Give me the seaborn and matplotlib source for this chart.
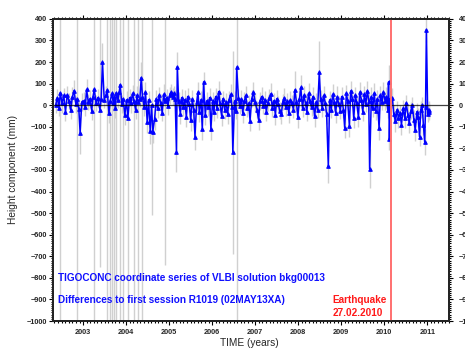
import pandas as pd
import seaborn as sns
import matplotlib.pyplot as plt
from matplotlib.ticker import MultipleLocator

# epochs of the VLBI sessions (decimal years)
epoch = [
    2002.36, 2002.40, 2002.44, 2002.47, 2002.51, 2002.55, 2002.59, 2002.63, 2002.67, 2002.71, 2002.75, 2002.79, 2002.83, 2002.86, 2002.90, 2002.93, 2002.97,
    2003.01, 2003.05, 2003.08, 2003.12, 2003.16, 2003.20, 2003.23, 2003.26, 2003.30, 2003.34, 2003.39, 2003.42, 2003.45, 2003.49, 2003.53, 2003.56, 2003.60, 2003.63, 2003.67, 2003.70, 2003.72, 2003.75, 2003.77, 2003.81, 2003.84, 2003.86, 2003.90, 2003.93, 2003.97,
    2004.01, 2004.04, 2004.08, 2004.11, 2004.15, 2004.18, 2004.22, 2004.25, 2004.28, 2004.32, 2004.35, 2004.38, 2004.42, 2004.45, 2004.49, 2004.52, 2004.56, 2004.59, 2004.62, 2004.66, 2004.70, 2004.73, 2004.77, 2004.80, 2004.84, 2004.87, 2004.90, 2004.94, 2004.97,
    2005.01, 2005.04, 2005.08, 2005.11, 2005.14, 2005.17, 2005.19, 2005.22, 2005.26, 2005.29, 2005.33, 2005.36, 2005.40, 2005.43, 2005.47, 2005.50, 2005.54, 2005.57, 2005.60, 2005.64, 2005.67, 2005.70, 2005.74, 2005.77, 2005.80, 2005.84, 2005.87, 2005.91, 2005.94, 2005.97,
    2006.01, 2006.04, 2006.08, 2006.11, 2006.15, 2006.18, 2006.22, 2006.25, 2006.29, 2006.32, 2006.36, 2006.39, 2006.43, 2006.46, 2006.48, 2006.52, 2006.55, 2006.57, 2006.61, 2006.64, 2006.68, 2006.71, 2006.75, 2006.78, 2006.82, 2006.85, 2006.88, 2006.92, 2006.96,
    2007.00, 2007.04, 2007.08, 2007.11, 2007.15, 2007.19, 2007.22, 2007.26, 2007.29, 2007.33, 2007.36, 2007.40, 2007.43, 2007.47, 2007.50, 2007.54, 2007.57, 2007.61, 2007.64, 2007.68, 2007.71, 2007.75, 2007.78, 2007.82, 2007.85, 2007.89, 2007.92, 2007.96, 2007.99,
    2008.03, 2008.06, 2008.10, 2008.13, 2008.17, 2008.20, 2008.24, 2008.27, 2008.31, 2008.34, 2008.38, 2008.42, 2008.45, 2008.49, 2008.52, 2008.56, 2008.59, 2008.63, 2008.66, 2008.70, 2008.73, 2008.77, 2008.80, 2008.84, 2008.87, 2008.91, 2008.94, 2008.98,
    2009.01, 2009.05, 2009.08, 2009.12, 2009.15, 2009.19, 2009.22, 2009.26, 2009.29, 2009.33, 2009.36, 2009.40, 2009.43, 2009.47, 2009.50, 2009.54, 2009.57, 2009.61, 2009.64, 2009.66, 2009.70, 2009.73, 2009.77, 2009.80, 2009.84, 2009.88, 2009.91, 2009.95, 2009.98,
    2010.02, 2010.05, 2010.08, 2010.10, 2010.12, 2010.14, 2010.19, 2010.22, 2010.26, 2010.30, 2010.33, 2010.37, 2010.40, 2010.44, 2010.48, 2010.51, 2010.55, 2010.58, 2010.62, 2010.65, 2010.69, 2010.72, 2010.76, 2010.79, 2010.82, 2010.85, 2010.88, 2010.91, 2010.94, 2010.96, 2010.98, 2011.01, 2011.03, 2011.05,
]

# height differences to first session (mm)
height = [
    0, 35, -12, 58, 8, 45, -30, 48, 20, -22, 38, 68, 4, 30, -18, -128, 15,
    20, -10, 73, 15, 30, -25, 40, 73, 10, 35, -20, 30, 200, 25, 45, 70, -37, 20, 55, 10, 40, -15, 58, 25, 60, 95, 5, 30, -45,
    25, -60, 35, 10, 55, 20, -20, 45, 15, 30, 128, 40, -10, 60, -78, 25, -120, 0, -122, -66, 30, -15, 45, 10, -35, 50, 20, 35, -5,
    45, 60, 40, 55, 30, -215, 178, 20, -40, 35, -10, 25, -55, 40, 5, -70, 30, -20, -146, 15, 60, -30, 25, -111, 108, -45, 20, -10, 35, -110,
    20, -30, 40, -15, 63, 10, -50, 30, -20, 15, -40, 25, 50, -10, -218, 20, -25, 176, 35, -5, 30, -35, 20, 45, -15, 10, -71, 30, 60,
    15, -20, -69, 20, 40, -5, 25, -30, 10, 35, 52, -15, 20, -45, 30, 5, -25, -40, 15, 35, -10, 20, -35, 25, 10, -20, 70, 15, -56,
    30, 82, -15, 45, 10, -30, 55, 20, -10, 40, -52, 15, -20, 152, 30, -15, 45, 10, -40, -282, 25, -20, 50, 15, -35, 40, 5, -25,
    40, -20, -104, 55, 20, -96, 66, 30, -60, 45, 10, -55, 60, 25, -30, 50, 5, 66, 20, -295, 40, -15, 55, -25, 30, -107, 45, 15, 60,
    20, 40, -20, 108, -157, 30, 35, -40, -75, -20, -60, -35, -90, -15, -60, 10, -45, -83, -25, 0, -70, -115, -30, -55, -146, -20, 0, -90, -170, -10, 350, -40, -20, -30,
]

# formal errors (mm)
sigma = [
    35, 40, 38, 1500, 42, 36, 44, 40, 36, 42, 44, 50, 38, 1500, 40, 100, 40,
    40, 38, 50, 36, 42, 44, 40, 1500, 38, 42, 730, 40, 90, 38, 44, 1500, 45, 1500, 1500, 38, 1500, 42, 1500, 36, 40, 1500, 42, 1500, 45,
    40, 1500, 38, 44, 40, 1500, 42, 46, 1500, 38, 70, 1500, 40, 46, 50, 40, 60, 510, 55, 50, 40, 46, 38, 44, 40, 46, 760, 40, 40,
    40, 38, 40, 36, 42, 95, 70, 40, 46, 38, 40, 44, 48, 40, 38, 50, 40, 44, 60, 40, 48, 46, 40, 50, 45, 48, 40, 38, 44, 50,
    40, 44, 38, 46, 48, 40, 46, 38, 44, 40, 48, 40, 46, 40, 470, 44, 40, 1500, 40, 38, 40, 46, 40, 44, 40, 38, 50, 40, 46,
    40, 38, 48, 40, 44, 38, 40, 44, 36, 40, 50, 40, 38, 48, 40, 36, 40, 46, 38, 44, 40, 38, 46, 40, 36, 40, 90, 40, 48,
    40, 60, 38, 46, 40, 44, 50, 38, 40, 46, 50, 40, 38, 145, 40, 38, 46, 40, 48, 80, 40, 38, 50, 40, 46, 48, 38, 40,
    46, 40, 50, 40, 38, 50, 44, 40, 46, 40, 38, 48, 46, 40, 44, 40, 38, 48, 40, 90, 46, 40, 50, 44, 40, 55, 46, 38, 48,
    40, 46, 40, 80, 50, 40, 46, 40, 48, 40, 46, 38, 50, 40, 44, 38, 46, 48, 40, 38, 46, 50, 40, 44, 45, 40, 38, 48, 60, 40, 55, 40, 38, 40,
]

quake = 2010.16
year_ticks = list(range(2003, 2012))

df = pd.DataFrame({'epoch': epoch, 'height': height, 'sigma': sigma})

sns.set_style('ticks')
plt.rcParams['font.family'] = ['Liberation Sans', 'DejaVu Sans']

fig, ax = plt.subplots(figsize=(4.65, 3.49), dpi=100)
fig.subplots_adjust(left=0.114, right=0.966, top=0.946, bottom=0.080)

# серые планки ошибок
ax.vlines(df['epoch'], df['height'] - df['sigma'], df['height'] + df['sigma'],
          color='#d0d0d0', lw=1.0, zorder=1)

# сам ряд
sns.lineplot(data=df, x='epoch', y='height', color='#0000ff', lw=1.1,
             marker='^', markersize=2.6, markeredgecolor='#0000ff',
             estimator=None, sort=False, ax=ax, zorder=3)

ax.axhline(0, color='black', lw=0.9, alpha=0.75, zorder=4)
ax.axvline(quake, color='#ff7070', lw=1.4, zorder=5)

ax.set_xlim(2002.30, 2011.51)
ax.set_ylim(-1000, 400)
ax.set_xticks(year_ticks)
ax.set_xticklabels([str(y) for y in year_ticks], fontweight='bold', fontsize=5.3)
ax.xaxis.set_minor_locator(MultipleLocator(1 / 12))
ax.yaxis.set_major_locator(MultipleLocator(100))
ax.yaxis.set_minor_locator(MultipleLocator(10))
ax.tick_params(which='both', direction='out', top=True, right=False,
               width=0.8, color='black')
ax.tick_params(which='major', length=3)
ax.tick_params(which='minor', length=1.5)
ax.tick_params(axis='y', which='major', pad=1.5)
ax.tick_params(axis='x', which='major', pad=3)
for lab in ax.get_yticklabels(which='both'):
    lab.set_fontweight('bold')
    lab.set_fontsize(5.3)
for sp in ax.spines.values():
    sp.set_linewidth(1.3)
    sp.set_color('black')

# правая ось с подписями (обрезаны краем картинки, как в оригинале)
ax2 = ax.twinx()
ax2.set_ylim(ax.get_ylim())
ax2.yaxis.set_major_locator(MultipleLocator(100))
ax2.yaxis.set_minor_locator(MultipleLocator(10))
ax2.tick_params(which='both', direction='out', width=0.8, color='black')
ax2.tick_params(which='major', length=3, pad=4)
ax2.tick_params(which='minor', length=1.5)
for lab in ax2.get_yticklabels():
    lab.set_fontweight('bold')
    lab.set_fontsize(5.3)
for sp in ax2.spines.values():
    sp.set_linewidth(1.3)

ax.set_xlabel('TIME (years)', fontsize=7.3)
ax.set_ylabel('Height component (mm)', fontsize=7.3)
ax.xaxis.set_label_coords(0.496, -0.056)
ax.yaxis.set_label_coords(-0.088, 0.5)

ax.text(2002.42, -801, 'TIGOCONC coordinate series of VLBI solution bkg00013',
        color='#1010ff', fontweight='bold', fontsize=7.2, va='center', ha='left')
ax.text(2002.42, -903, 'Differences to first session R1019 (02MAY13XA)',
        color='#1010ff', fontweight='bold', fontsize=7.2, va='center', ha='left')
ax.text(2008.80, -903, 'Earthquake', color='#ff1a1a',
        fontweight='bold', fontsize=7.2, va='center', ha='left')
ax.text(2008.80, -963, '27.02.2010', color='#ff1a1a',
        fontweight='bold', fontsize=7.2, va='center', ha='left')

plt.savefig('out.png', dpi=100)
